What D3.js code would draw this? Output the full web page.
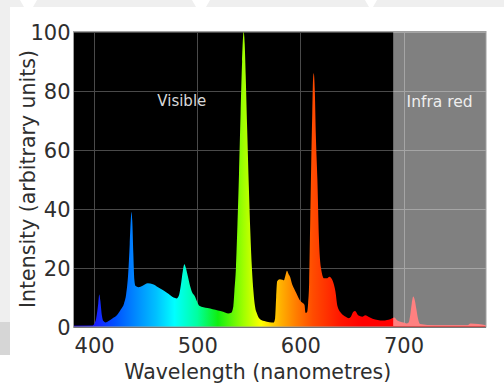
<!DOCTYPE html>
<html><head><meta charset="utf-8">
<script src="https://cdn.jsdelivr.net/npm/d3@7"></script>
<style>html,body{margin:0;padding:0;background:#fff;}svg{display:block;}</style>
</head><body>
<svg id="chart" width="504" height="388"></svg>
<script>
// ---- data ----
const wavelengths = [380,397,399,402,404,405,406,407.5,409,411,414,418,422,426,429,431,433,434.5,435.5,436.3,437,438,439,440,443,447,452,457,462,467,472,477,480,482,484,486,487.5,489,491,493,495,497.5,500,502,506,510,515,520,525,530,533,535,536,537.5,539,540.5,542,543.5,545,546,547,548.5,550,551.5,553,554.5,556,558,560,565,570,574,575.5,576.5,577.5,580,582.5,584,585.5,587,588.5,590,592,594,596,598,600,602,604,605,606.5,607.5,608.5,609.5,610.5,611.5,612.3,613,614,615,616.5,618,620,623,626,628,630,632,634,636,640,644,647,649,651,653,656,660,663,666,670,675,680,684,687,689,691,694,697,700,703,705,706.5,708,709.5,711,712.5,714,716,730,745,758,762,765,780];
const intensity   = [0,0,0.5,3,8,11,9,4,2,1.5,2,3,4,6,8,11,18,28,36,39,36,25,16,14,13.5,14,14.8,14.5,13.5,12.5,11.3,10,9.7,10.5,14,19,21.3,20,17,14,11.8,10.5,8.5,7.2,6.7,6.4,6,5.6,5.2,4.6,4.8,7,12,20,35,52,72,90,100,96,85,66,48,32,20,12,7,4.5,3,2,1.6,1.5,3,10,15.5,16.2,16,15.8,17.5,19.1,18,17,14.5,13,11.5,10,8.8,8.2,7.5,4.8,5,8,15,35,55,72,84,86,80,65,50,30,20,16.5,16.5,17,16.5,15,12,7,4.5,3.5,3,3.5,5,5.4,4,3.5,4,3.5,2.8,2.4,2.2,2.4,2.6,3,3.2,2.2,1.8,1.5,1.2,1.5,4,8,10.3,9,6,3,1,0.6,0.6,0.6,0.6,1.2,0.6,0.6];
const xTicks = [400,500,600,700];
const yTicks = [0,20,40,60,80,100];
const colorStopsNm  = [380,400,420,440,460,478,500,520,545,562,580,595,612,640,660,780];
const colorStopsHex = ["#1a00b0","#1a1aff","#0050ff","#0088ff","#00c0ff","#00ffff","#00ffa0","#10ef10","#a0ff00","#ffff00","#ffb400","#ff8000","#ff4c00","#ff1400","#ff0000","#ff0000"];
const irStart = 690;
const labels = {x:"Wavelength (nanometres)", y:"Intensity (arbitrary units)", visible:"Visible", ir:"Infra red"};

// ---- layout ----
const svg = d3.select("#chart");
const L = 73.5, R = 486, T = 32, B = 327;
const x = d3.scaleLinear().domain([380,780]).range([L,R]);
const y = d3.scaleLinear().domain([0,100]).range([B,T]);
const font = "'DejaVu Sans', sans-serif";

// background decoration
svg.append("rect").attr("width",504).attr("height",388).attr("fill","#fff");
svg.append("rect").attr("x",0).attr("y",0).attr("width",504).attr("height",7).attr("fill","#efefef");
svg.append("rect").attr("x",0).attr("y",0).attr("width",10).attr("height",322).attr("fill","#efefef");
svg.append("rect").attr("x",0).attr("y",322).attr("width",10).attr("height",33).attr("fill","#d6d6d6");
[[20,37],[192,210],[365,377]].forEach(([a,b])=>{
  svg.append("polygon").attr("points",`${a},0 ${b},0 ${b-4},7 ${a+4},7`).attr("fill","#fff");
});

// plot area
svg.append("rect").attr("x",L).attr("y",T).attr("width",R-L).attr("height",B-T).attr("fill","#000");

// grid
const grid = svg.append("g");
xTicks.forEach(t=>grid.append("line").attr("x1",Math.round(x(t))+0.5).attr("x2",Math.round(x(t))+0.5).attr("y1",T).attr("y2",B).attr("stroke","#4a4a4a").attr("stroke-width",1));
yTicks.forEach(t=>grid.append("line").attr("x1",L).attr("x2",R).attr("y1",Math.round(y(t))+0.5).attr("y2",Math.round(y(t))+0.5).attr("stroke","#4a4a4a").attr("stroke-width",1));

// gradient
const defs = svg.append("defs");
const grad = defs.append("linearGradient").attr("id","spec").attr("gradientUnits","userSpaceOnUse")
  .attr("x1",x(380)).attr("x2",x(780)).attr("y1",0).attr("y2",0);
colorStopsNm.forEach((nm,i)=>grad.append("stop").attr("offset",(nm-380)/400).attr("stop-color",colorStopsHex[i]));

const data = wavelengths.map((w,i)=>({w, v:intensity[i]}));
const area = d3.area().x(d=>x(d.w)).y0(B).y1(d=>y(d.v)).curve(d3.curveMonotoneX);
svg.append("path").datum(data).attr("d",area).attr("fill","url(#spec)");
// baseline thin line
svg.append("rect").attr("x",L).attr("y",B-1.5).attr("width",R-L).attr("height",1.5).attr("fill","url(#spec)");

// infra-red overlay
svg.append("rect").attr("x",x(irStart)).attr("y",T).attr("width",R-x(irStart)).attr("height",B-T-1)
  .attr("fill","#fff").attr("fill-opacity",0.5);

// frame
svg.append("rect").attr("x",L).attr("y",T-0.5).attr("width",R-L).attr("height",B-T+0.5)
  .attr("fill","none").attr("stroke","#a0a0a0").attr("stroke-width",1);

// region labels
svg.append("text").attr("x",x(485)).attr("y",106).attr("text-anchor","middle").attr("font-family",font)
  .attr("font-size",15).attr("fill","#d8d8d8").text(labels.visible);
svg.append("text").attr("x",x(735)).attr("y",107).attr("text-anchor","middle").attr("font-family",font)
  .attr("font-size",15.5).attr("fill","#eeeeee").text(labels.ir);

// axes
const xAxis = d3.axisBottom(x).tickValues(xTicks).tickSize(0).tickPadding(8);
const gx = svg.append("g").attr("transform",`translate(0,${B})`).call(xAxis);
gx.select(".domain").remove();
gx.selectAll("text").attr("font-family",font).attr("font-size",21).attr("fill","#2e2e2e").attr("dy","0.95em").attr("y",6);

const yAxis = d3.axisLeft(y).tickValues(yTicks).tickSize(0).tickPadding(3);
const gy = svg.append("g").attr("transform",`translate(${L},0)`).call(yAxis);
gy.select(".domain").remove();
gy.selectAll("text").attr("font-family",font).attr("font-size",21).attr("fill","#2e2e2e").attr("dy","0.36em");

svg.append("text").attr("x",(L+R)/2 - 22).attr("y",379).attr("text-anchor","middle").attr("font-family",font)
  .attr("font-size",20.5).attr("fill","#2e2e2e").text(labels.x);
svg.append("text").attr("transform",`translate(35,179) rotate(-90)`).attr("text-anchor","middle").attr("font-family",font)
  .attr("font-size",20.5).attr("fill","#2e2e2e").text(labels.y);
</script>
</body></html>
